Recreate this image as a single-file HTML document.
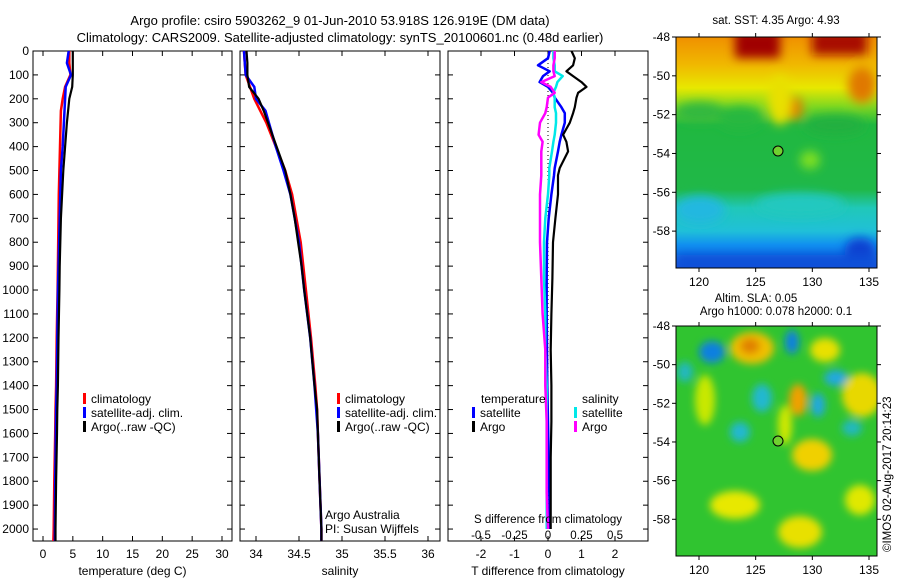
<!DOCTYPE html>
<html><head><meta charset="utf-8">
<style>
html,body{margin:0;padding:0;background:#fff;}
svg{display:block;font-family:"Liberation Sans",sans-serif;}
</style></head>
<body>
<svg id="fig" width="900" height="580" viewBox="0 0 900 580" xmlns="http://www.w3.org/2000/svg">
<defs>
<filter id="blur1" x="-50%" y="-50%" width="200%" height="200%"><feGaussianBlur stdDeviation="5"/></filter>
<filter id="blur2" x="-50%" y="-50%" width="200%" height="200%"><feGaussianBlur stdDeviation="4"/></filter>
<clipPath id="clipTop"><rect x="676" y="37" width="201" height="231"/></clipPath>
<clipPath id="clipBot"><rect x="676" y="326" width="201" height="230"/></clipPath>
<linearGradient id="sstGrad" x1="0" y1="0" x2="0" y2="1">
<stop offset="0" stop-color="#f09000"/>
<stop offset="0.12" stop-color="#f0b800"/>
<stop offset="0.22" stop-color="#e8e800"/>
<stop offset="0.30" stop-color="#80d820"/>
<stop offset="0.38" stop-color="#20b840"/>
<stop offset="0.66" stop-color="#20b848"/>
<stop offset="0.74" stop-color="#20c8b8"/>
<stop offset="0.84" stop-color="#20c0d8"/>
<stop offset="0.90" stop-color="#1090f0"/>
<stop offset="1" stop-color="#1050d8"/>
</linearGradient>
</defs>
<text x="340" y="25" font-size="13" text-anchor="middle">Argo profile: csiro 5903262_9 01-Jun-2010 53.918S 126.919E (DM data)</text>
<text x="340" y="42" font-size="13" text-anchor="middle">Climatology: CARS2009. Satellite-adjusted climatology: synTS_20100601.nc (0.48d earlier)</text>

<g>
<g clip-path="url(#clipTop)">
<rect x="676" y="37" width="201" height="231" fill="url(#sstGrad)"/>
<g filter="url(#blur1)">
<rect x="735" y="30" width="45" height="28" fill="#a00000"/>
<rect x="812" y="30" width="55" height="25" fill="#a81000"/>
<ellipse cx="862" cy="85" rx="14" ry="18" fill="#e07800"/>
<ellipse cx="794" cy="108" rx="9" ry="12" fill="#e08000"/>
<ellipse cx="780" cy="100" rx="12" ry="25" fill="#e8e000"/>
<ellipse cx="700" cy="112" rx="25" ry="10" fill="#30b840"/>
<ellipse cx="740" cy="118" rx="22" ry="12" fill="#28b840"/>
<ellipse cx="835" cy="125" rx="30" ry="10" fill="#20b040"/>
<ellipse cx="810" cy="160" rx="10" ry="9" fill="#80e020"/>
<ellipse cx="700" cy="210" rx="25" ry="14" fill="#20b8e0"/>
<ellipse cx="800" cy="205" rx="45" ry="12" fill="#20c8c0"/>
<ellipse cx="860" cy="250" rx="15" ry="12" fill="#1040d0"/>
<rect x="676" y="255" width="201" height="15" fill="#1050d8"/>
</g>
</g>
<rect x="676" y="37" width="201" height="231" fill="none" stroke="#000" stroke-width="1"/>
<circle cx="778" cy="151" r="5" fill="#70d030" stroke="#000" stroke-width="1"/>
<text x="776" y="24" font-size="11.5" text-anchor="middle">sat. SST: 4.35 Argo: 4.93</text>
</g>

<g>
<g clip-path="url(#clipBot)">
<rect x="676" y="326" width="201" height="230" fill="#30c430"/>
<g filter="url(#blur2)">
<ellipse cx="752" cy="348" rx="22" ry="16" fill="#f0c000"/>
<ellipse cx="750" cy="346" rx="10" ry="8" fill="#e08000"/>
<ellipse cx="712" cy="352" rx="13" ry="11" fill="#1080e0"/>
<ellipse cx="792" cy="342" rx="7" ry="12" fill="#1080e0"/>
<ellipse cx="825" cy="350" rx="15" ry="12" fill="#e8e000"/>
<ellipse cx="836" cy="378" rx="12" ry="8" fill="#20a8e0"/>
<ellipse cx="818" cy="405" rx="7" ry="12" fill="#20a8e0"/>
<ellipse cx="762" cy="398" rx="10" ry="14" fill="#20b8d0"/>
<ellipse cx="740" cy="432" rx="10" ry="10" fill="#20b8d0"/>
<ellipse cx="862" cy="395" rx="20" ry="22" fill="#e8d800"/>
<ellipse cx="798" cy="400" rx="9" ry="16" fill="#f0a000"/>
<ellipse cx="785" cy="425" rx="7" ry="20" fill="#d0e800"/>
<ellipse cx="812" cy="455" rx="20" ry="16" fill="#f0d000"/>
<ellipse cx="705" cy="400" rx="10" ry="25" fill="#c8e800"/>
<ellipse cx="735" cy="505" rx="25" ry="14" fill="#e8e800"/>
<ellipse cx="800" cy="532" rx="22" ry="16" fill="#e8e000"/>
<ellipse cx="860" cy="500" rx="15" ry="15" fill="#e0e800"/>
<ellipse cx="685" cy="372" rx="8" ry="10" fill="#20b8c0"/>
<ellipse cx="852" cy="428" rx="10" ry="8" fill="#20b8c0"/>
</g>
</g>
<rect x="676" y="326" width="201" height="230" fill="none" stroke="#000" stroke-width="1"/>
<circle cx="778" cy="441" r="5" fill="#70d030" stroke="#000" stroke-width="1"/>
<text x="756" y="302" font-size="11.5" text-anchor="middle">Altim. SLA: 0.05</text>
<text x="776" y="315" font-size="11.5" text-anchor="middle">Argo h1000: 0.078 h2000: 0.1</text>
</g>
<text transform="translate(891,552) rotate(-90)" font-size="11.5">©IMOS 02-Aug-2017 20:14:23</text>
</svg>
<script>
// ---------- data ----------
const yTicks = [0,100,200,300,400,500,600,700,800,900,1000,1100,1200,1300,1400,1500,1600,1700,1800,1900,2000];
const tempTicks = [0,5,10,15,20,25,30];
const salTicks = [34,34.5,35,35.5,36];
const sTicks = [-0.5,-0.25,0,0.25,0.5];
const sTickLabels = ["-0.5","-0.25","0","0.25","0.5"];
const tTicks = [-2,-1,0,1,2];
const mapXTicks = [120,125,130,135];
const mapYTicks = [-48,-50,-52,-54,-56,-58];

const tempDepths = [0,50,100,150,200,250,300,400,500,600,700,800,900,1000,1200,1400,1500,1600,1800,2000,2050];
const tempClim   = [4.4,4.4,4.6,3.7,3.3,3.0,2.95,2.85,2.75,2.65,2.6,2.55,2.5,2.45,2.3,2.2,2.1,2.05,1.9,1.8,1.75];
const tempSat    = [4.3,4.0,4.7,3.8,3.7,3.6,3.5,3.3,3.0,2.9,2.8,2.7,2.6,2.5,2.4,2.3,2.2,2.15,2.05,2.0,2.0];
const tempArgo   = [5.0,5.0,5.0,4.9,4.4,4.2,4.0,3.7,3.4,3.2,3.0,2.9,2.8,2.75,2.6,2.5,2.4,2.35,2.2,2.1,2.1];

const salDepths = [0,50,100,150,200,250,300,400,500,600,700,800,900,1000,1200,1400,1500,1600,1800,2000,2050];
const salClim   = [33.86,33.87,33.88,33.93,33.98,34.05,34.12,34.23,34.34,34.42,34.47,34.52,34.55,34.58,34.64,34.69,34.71,34.72,34.74,34.76,34.76];
const salSat    = [33.86,33.87,33.88,33.98,34.0,34.11,34.15,34.23,34.32,34.4,34.45,34.5,34.53,34.56,34.63,34.68,34.7,34.72,34.74,34.76,34.76];
const salArgo   = [33.89,33.9,33.9,33.92,34.03,34.09,34.14,34.24,34.34,34.4,34.45,34.49,34.53,34.56,34.63,34.68,34.71,34.72,34.74,34.76,34.76];

const diffDepths = [0,30,60,85,105,130,150,175,195,235,260,300,350,380,420,490,520,600,700,800,950,1100,1250,1400,1550,1700,1850,2000];
const dTSat  = [0.05,0.0,-0.3,0.05,-0.15,-0.25,0.0,0.15,0.2,0.4,0.5,0.5,0.4,0.35,0.3,0.2,0.18,0.1,0.02,-0.03,-0.04,-0.04,-0.03,-0.02,0.0,0.02,0.04,0.05];
const dTArgo = [0.7,0.8,0.75,0.55,0.75,1.0,1.15,0.9,0.85,0.8,0.75,0.65,0.45,0.55,0.6,0.35,0.3,0.3,0.22,0.15,0.13,0.1,0.08,0.1,0.1,0.08,0.08,0.08];
const dSSat  = [0.04,0.04,0.05,0.05,0.11,0.07,0.06,0.04,0.05,0.05,0.06,0.06,0.05,0.04,0.03,0.01,0.01,0.0,-0.02,-0.03,-0.03,-0.02,-0.02,-0.01,-0.01,-0.01,-0.01,-0.01];
const dSArgo = [0.05,0.05,0.04,0.04,0.05,-0.05,0.02,0.05,0.0,-0.01,-0.02,-0.06,-0.07,-0.04,-0.05,-0.05,-0.05,-0.06,-0.06,-0.06,-0.05,-0.04,-0.02,-0.02,-0.01,-0.01,-0.01,0.0];

// ---------- helpers ----------
const NS = "http://www.w3.org/2000/svg";
const svg = document.getElementById("fig");
function mk(tag, attrs, parent){
  const e = document.createElementNS(NS, tag);
  for (const k in attrs) e.setAttribute(k, attrs[k]);
  (parent||svg).appendChild(e);
  return e;
}
const PT = 51, PB = 541, DMAX = 2050;
const yScale = d => PT + d / DMAX * (PB - PT);
function linScale(d0,d1,r0,r1){ return v => r0 + (v-d0)/(d1-d0)*(r1-r0); }

function linePath(depths, vals, xs){
  let p = "";
  for (let i=0;i<depths.length;i++){
    const x = xs(vals[i]), y = yScale(depths[i]);
    p += (i===0?"M":"L")+x.toFixed(1)+","+y.toFixed(1);
  }
  return p;
}

function panel(name, x0, x1, xs, xticks, xlabels, xlabelText, showY){
  const g = mk("g", {});
  
  
  mk("rect",{x:x0,y:PT,width:x1-x0,height:PB-PT,fill:"#fff",stroke:"#000","stroke-width":1},g);
  yTicks.forEach(d=>{
    const y = yScale(d);
    mk("line",{x1:x0,y1:y,x2:x0+5,y2:y,stroke:"#000"},g);
    mk("line",{x1:x1-5,y1:y,x2:x1,y2:y,stroke:"#000"},g);
    if (showY){
      const t = mk("text",{x:x0-4,y:y+4,"font-size":12,"text-anchor":"end"},g);
      t.textContent = d;
      
      
    }
  });
  xticks.forEach((v,i)=>{
    const x = xs(v);
    mk("line",{x1:x,y1:PB,x2:x,y2:PB-5,stroke:"#000"},g);
    mk("line",{x1:x,y1:PT,x2:x,y2:PT+5,stroke:"#000"},g);
    const t = mk("text",{x:x,y:PB+17,"font-size":12,"text-anchor":"middle"},g);
    t.textContent = xlabels[i];
    
    
  });
  const xl = mk("text",{x:(x0+x1)/2,y:575,"font-size":12,"text-anchor":"middle"},g);
  xl.textContent = xlabelText;
  
  
  return g;
}
function series(g, name, depths, vals, xs, color, w){
  const p = mk("path",{d:linePath(depths,vals,xs),fill:"none",stroke:color,"stroke-width":w,"stroke-linejoin":"round"},g);
  
  
}
function legendItem(g, name, x, y, color, label){
  const gg = mk("g",{},g);
  
  
  if (color) mk("rect",{x:x,y:y-10,width:3,height:11,fill:color},gg);
  const t = mk("text",{x:x+8,y:y,"font-size":12},gg);
  t.textContent = label;
}

// ---------- panel 1: temperature ----------
const xsT = linScale(0,30,43,222);
const g1 = panel("temperature-panel",33,232,xsT,tempTicks,tempTicks.map(String),"temperature (deg C)",true);
series(g1,"temp-climatology-line",tempDepths,tempClim,xsT,"#ff0000",2.5);
series(g1,"temp-satellite-line",tempDepths,tempSat,xsT,"#0000ff",2.5);
series(g1,"temp-argo-line",tempDepths,tempArgo,xsT,"#000000",2.2);
legendItem(g1,"legend-climatology",83,403,"#ff0000","climatology");
legendItem(g1,"legend-satellite",83,417,"#0000ff","satellite-adj. clim.");
legendItem(g1,"legend-argo",83,431,"#000000","Argo(..raw -QC)");

// ---------- panel 2: salinity ----------
const xsS = linScale(34,36,256,428);
const g2 = panel("salinity-panel",240,440,xsS,salTicks,["34","34.5","35","35.5","36"],"salinity",false);
series(g2,"sal-climatology-line",salDepths,salClim,xsS,"#ff0000",2.5);
series(g2,"sal-satellite-line",salDepths,salSat,xsS,"#0000ff",2.5);
series(g2,"sal-argo-line",salDepths,salArgo,xsS,"#000000",2.2);
legendItem(g2,"legend-climatology",337,403,"#ff0000","climatology");
legendItem(g2,"legend-satellite",337,417,"#0000ff","satellite-adj. clim.");
legendItem(g2,"legend-argo",337,431,"#000000","Argo(..raw -QC)");
const pa = mk("text",{x:325,y:519,"font-size":12},g2); pa.textContent="Argo Australia";


const pi = mk("text",{x:325,y:533,"font-size":12},g2); pi.textContent="PI: Susan Wijffels";



// ---------- panel 3: differences ----------
const xsD = linScale(-2,2,481,615);
const xsDS = v => xsD(v*4);
const g3 = panel("difference-panel",448,648,xsD,tTicks,tTicks.map(String),"T difference from climatology",false);
mk("line",{x1:xsD(0),y1:yScale(0),x2:xsD(0),y2:yScale(2000),stroke:"#000","stroke-dasharray":"1,3","stroke-width":1},g3);
series(g3,"dt-satellite-line",diffDepths,dTSat,xsD,"#0000ff",2.5);
series(g3,"dt-argo-line",diffDepths,dTArgo,xsD,"#000000",2.2);
series(g3,"ds-satellite-line",diffDepths,dSSat,xsDS,"#00e8e8",2.5);
series(g3,"ds-argo-line",diffDepths,dSArgo,xsDS,"#ff00ff",2.5);
legendItem(g3,"legend-temperature-header",473,403,null,"temperature");
legendItem(g3,"legend-dt-satellite",472,417,"#0000ff","satellite");
legendItem(g3,"legend-dt-argo",472,431,"#000000","Argo");
legendItem(g3,"legend-salinity-header",574,403,null,"salinity");
legendItem(g3,"legend-ds-satellite",574,417,"#00e8e8","satellite");
legendItem(g3,"legend-ds-argo",574,431,"#ff00ff","Argo");
const st = mk("text",{x:548,y:523,"font-size":11.5,"text-anchor":"middle"},g3); st.textContent="S difference from climatology";


sTicks.forEach((v,i)=>{
  const t = mk("text",{x:xsDS(v),y:539,"font-size":11.5,"text-anchor":"middle"},g3);
  t.textContent = sTickLabels[i];
  
  
});

// ---------- map axes ----------
function mapAxes(top, bottom){
  const xs = linScale(120,135,699,869);
  const ysMap = v => top + (-48 - v) * ((bottom-top)/11.9);
  mapXTicks.forEach(v=>{
    const x = xs(v);
    mk("line",{x1:x,y1:bottom,x2:x,y2:bottom+4,stroke:"#000"});
    mk("line",{x1:x,y1:top,x2:x,y2:top-4,stroke:"#000"});
    const t = mk("text",{x:x,y:bottom+18,"font-size":12,"text-anchor":"middle"});
    t.textContent = v;
    
    
  });
  mapYTicks.forEach(v=>{
    const y = ysMap(v);
    mk("line",{x1:676,y1:y,x2:672,y2:y,stroke:"#000"});
    mk("line",{x1:877,y1:y,x2:881,y2:y,stroke:"#000"});
    const t = mk("text",{x:670,y:y+4,"font-size":12,"text-anchor":"end"});
    t.textContent = v;
    
    
  });
}
mapAxes(37,268);
mapAxes(326,556);
</script>
</body></html>
